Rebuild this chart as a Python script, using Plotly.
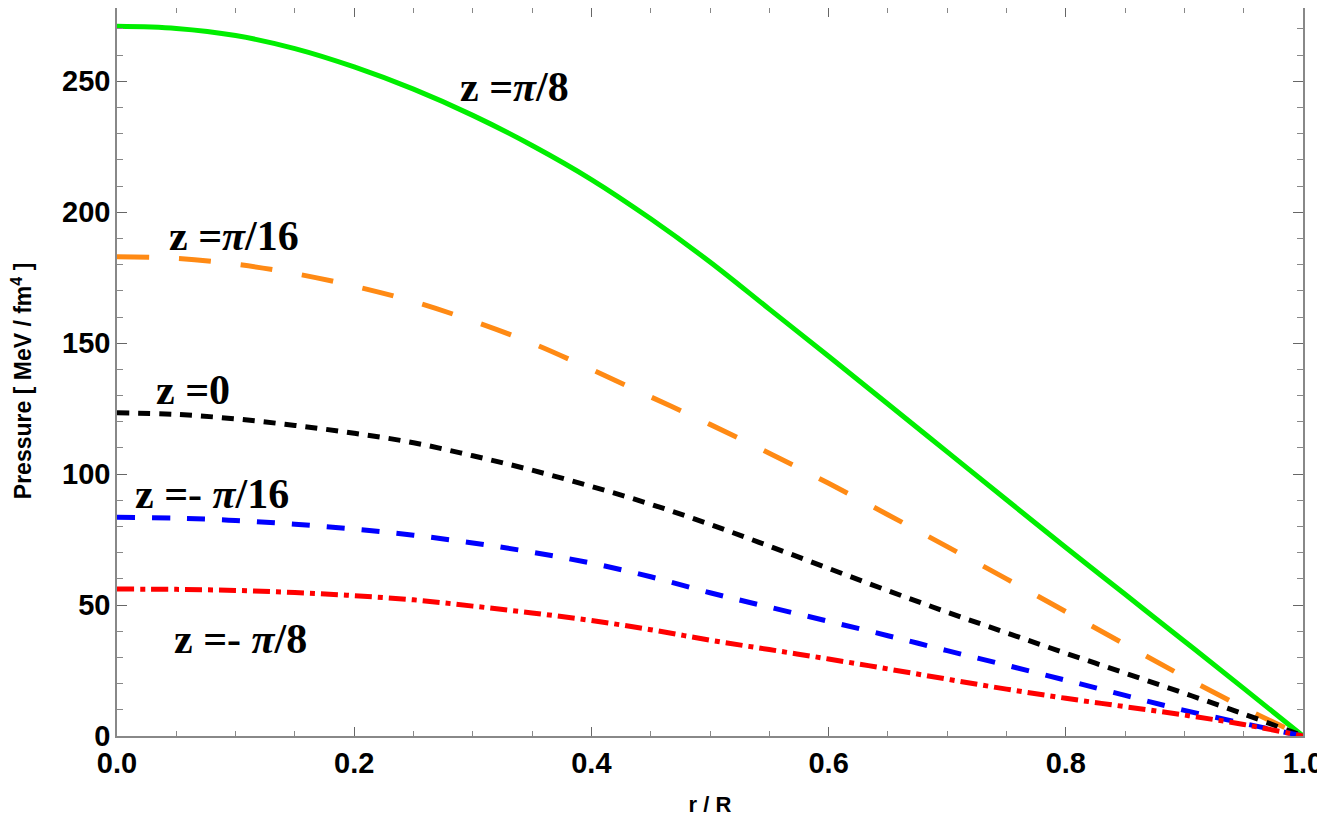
import plotly.graph_objects as go

r = [0.0, 0.05, 0.1, 0.15, 0.2, 0.25, 0.3, 0.35, 0.4, 0.45, 0.5,
     0.55, 0.6, 0.65, 0.7, 0.75, 0.8, 0.85, 0.9, 0.95, 1.0]
p_pi8 = [271, 270.2, 267.5, 262.5, 255.5, 247, 237, 225.5, 212.5, 197.5, 181,
         163, 145, 126.8, 108.5, 90.2, 72, 54.1, 36.2, 18.2, 0]
p_pi16 = [183, 182.4, 180.2, 176.6, 171.8, 165.9, 158.5, 150, 140, 129.5, 119,
          108, 96.5, 84.5, 72.3, 60, 47.5, 35, 22.6, 10.8, 0]
p_0 = [123.4, 122.8, 121.1, 118.6, 115.6, 112, 107, 101.5, 95.3, 88.5, 80.8,
       72.5, 64, 55.5, 47.3, 39.4, 31.6, 24, 16.3, 8.4, 0]
p_mpi16 = [83.5, 83.2, 82.3, 80.9, 79, 76.7, 73.7, 70.2, 66, 60.8, 54.7,
           49.2, 43.8, 38.3, 32.6, 27, 21.3, 15.5, 9.8, 4.8, 0]
p_mpi8 = [56.1, 56, 55.6, 54.8, 53.6, 52, 49.6, 47, 44.1, 40.6, 36.6,
          33, 29.4, 25.6, 21.7, 17.9, 14.4, 11.2, 8, 4.4, 0]

labels = ["z =<i>π</i>/8", "z =<i>π</i>/16", "z =0", "z =- <i>π</i>/16", "z =- <i>π</i>/8"]
label_r = [0.335, 0.099, 0.064, 0.080, 0.104]
label_p = [248, 191, 132, 92.4, 37]

x_ticks = [0.0, 0.2, 0.4, 0.6, 0.8, 1.0]
y_ticks = [0, 50, 100, 150, 200, 250]

series = [
    (p_pi8, "#00ee00", "solid"),
    (p_pi16, "#ff8a14", "32px,30px"),
    (p_0, "#000000", "12px,9px"),
    (p_mpi16, "#0000ff", "18px,17px"),
    (p_mpi8, "#ff0000", "17px,6px,5px,6px"),
]

fig = go.Figure()
for vals, col, dash in series:
    fig.add_trace(go.Scatter(x=r, y=vals, mode="lines",
                             line=dict(color=col, width=5, dash=dash, shape="spline", smoothing=1),
                             showlegend=False, hoverinfo="skip"))

for t, xr, yp in zip(labels, label_r, label_p):
    fig.add_annotation(x=xr, y=yp, xref="x", yref="y", text="<b>" + t + "</b>", showarrow=False,
                       font=dict(family="Liberation Serif", size=42, color="black"))

# y-axis title placed as a rotated annotation
fig.add_annotation(x=0, xref="paper", xanchor="center", xshift=-95, y=135.5, yref="y",
                   text="<b>Pressure [ MeV / fm<sup>4</sup> ]</b>", textangle=-90, showarrow=False,
                   font=dict(family="Liberation Sans", size=23, color="black"))

axis_common = dict(showgrid=False, zeroline=False, showline=True, linecolor="#888888", linewidth=1.5,
                   mirror="ticks", ticks="inside", tickcolor="#666666", tickwidth=1.2, automargin=False,
                   ticklabeloverflow="allow",
                   tickfont=dict(family="Liberation Sans", size=29, color="black", weight="bold"))

fig.update_xaxes(range=[0, 1], tickvals=x_ticks, ticktext=[f"{v:.1f}" for v in x_ticks], ticklen=9,
                 ticklabelstandoff=0,
                 minor=dict(dtick=0.05, ticks="inside", ticklen=5, tickcolor="#888888", showgrid=False),
                 title=dict(text="r / R", font=dict(family="Liberation Sans", size=22, color="black", weight="bold"),
                            standoff=22),
                 **axis_common)
fig.update_yaxes(range=[0, 278], tickvals=y_ticks, ticklen=10, ticklabelstandoff=-1,
                 minor=dict(dtick=10, ticks="inside", ticklen=6, tickcolor="#888888", showgrid=False),
                 **axis_common)

fig.update_layout(width=1317, height=809, margin=dict(l=109, r=22, t=0, b=81),
                  plot_bgcolor="white", paper_bgcolor="white")

fig.write_html("out.html")
